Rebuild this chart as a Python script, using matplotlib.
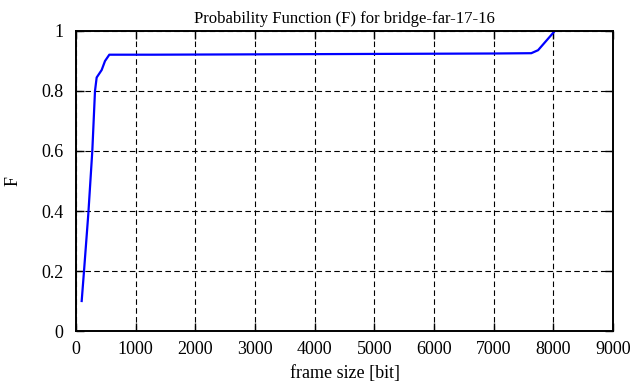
import matplotlib
matplotlib.use("Agg")
import matplotlib.pyplot as plt

# CDF of frame sizes
frame_size = [95, 134, 206, 273, 318, 346, 430, 486, 558, 1290, 2750, 5600, 7000, 7630, 7744, 8024]
prob_f = [0.10, 0.20, 0.39, 0.60, 0.80, 0.845, 0.87, 0.90, 0.921, 0.921, 0.922, 0.924, 0.925, 0.926, 0.936, 1.0]

x_ticks = list(range(0, 9001, 1000))
y_ticks = [0, 0.2, 0.4, 0.6, 0.8, 1]

plt.rcParams["font.family"] = ["Liberation Serif", "DejaVu Serif"]

fig = plt.figure(figsize=(6.34, 3.87), dpi=100)
ax = fig.add_axes([0.1199, 0.1447, 0.8470, 0.7752])

ax.plot(frame_size, prob_f, color="#0000ff", linewidth=1.6)

ax.set_xlim(0, 9000)
ax.set_ylim(0, 1)
ax.set_xticks(x_ticks)
ax.set_yticks(y_ticks)
ax.set_yticklabels(["0", "0.2", "0.4", "0.6", "0.8", "1"])
ax.tick_params(direction="in", top=True, right=True, length=6, width=1,
               labelsize=13)
ax.tick_params(axis="x", pad=7)
ax.tick_params(axis="y", pad=9)
ax.grid(True, color="black", linestyle=(0, (5, 3)), linewidth=0.8)
for s in ax.spines.values():
    s.set_linewidth(1.4)

ax.set_title("Probability Function (F) for bridge-far-17-16", fontsize=12, pad=6)
ax.set_xlabel("frame size [bit]", fontsize=13, labelpad=5)
ax.set_ylabel("F", fontsize=13, labelpad=14)

fig.savefig("out.png", dpi=100)
